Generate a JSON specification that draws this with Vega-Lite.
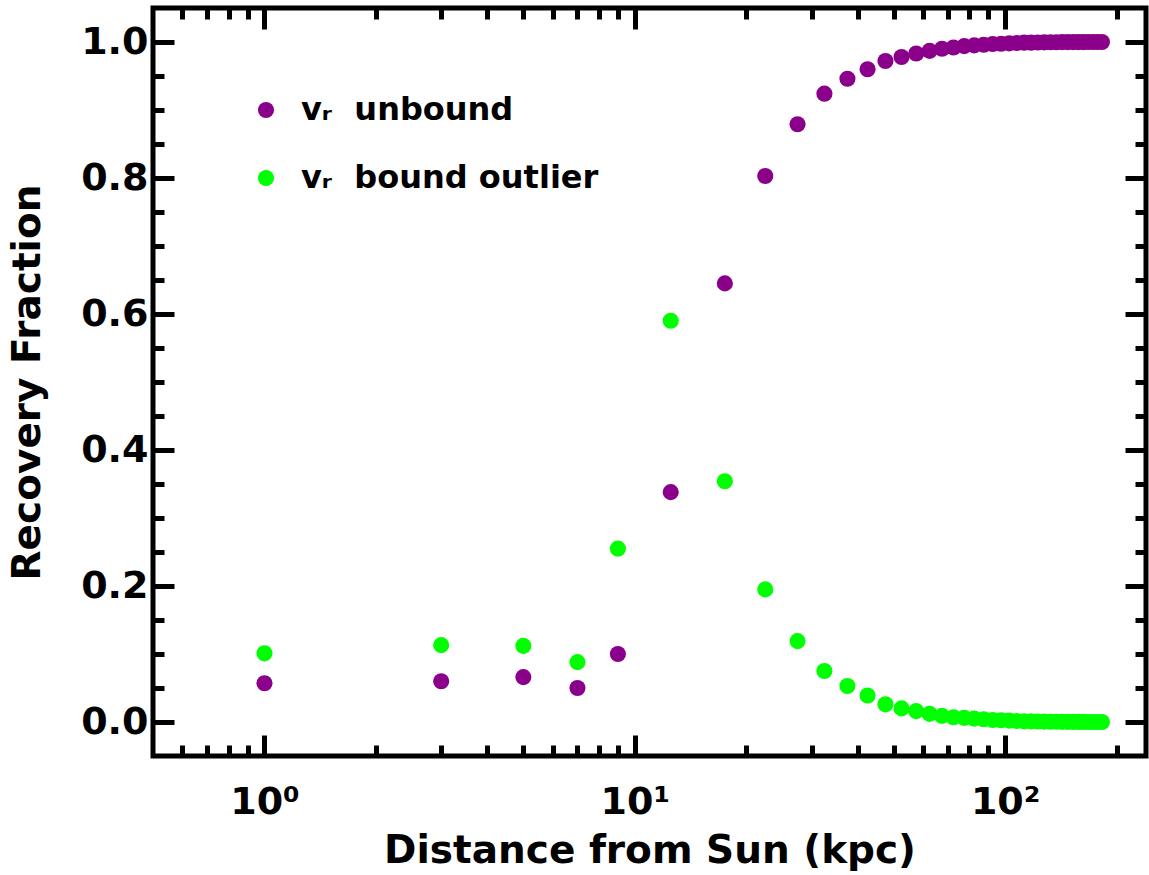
{
  "$schema": "https://vega.github.io/schema/vega-lite/v6.json",
  "width": 993,
  "height": 748,
  "autosize": {"type": "none"},
  "padding": {"left": 153, "top": 8, "right": 3, "bottom": 119},
  "background": "white",
  "config": {
    "view": {"stroke": "black", "strokeWidth": 5},
    "axis": {
      "domain": false,
      "grid": false,
      "tickColor": "black",
      "tickWidth": 5,
      "labelFont": "DejaVu Sans",
      "labelFontWeight": "bold",
      "labelFontSize": 38,
      "labelColor": "black",
      "titleFont": "DejaVu Sans",
      "titleFontWeight": "bold",
      "titleFontSize": 39,
      "titleColor": "black"
    },
    "legend": {
      "labelFont": "DejaVu Sans",
      "labelFontWeight": "bold",
      "labelFontSize": 32,
      "labelColor": "black",
      "labelLimit": 0
    }
  },
  "data": {
    "values": [
      {"d": 1, "s": "vᵣ unbound", "f": 0.057}, {"d": 1, "s": "vᵣ bound outlier", "f": 0.101},
      {"d": 3, "s": "vᵣ unbound", "f": 0.060}, {"d": 3, "s": "vᵣ bound outlier", "f": 0.113},
      {"d": 5, "s": "vᵣ unbound", "f": 0.066}, {"d": 5, "s": "vᵣ bound outlier", "f": 0.112},
      {"d": 7, "s": "vᵣ unbound", "f": 0.050}, {"d": 7, "s": "vᵣ bound outlier", "f": 0.088},
      {"d": 9, "s": "vᵣ unbound", "f": 0.100}, {"d": 9, "s": "vᵣ bound outlier", "f": 0.255},
      {"d": 12.5, "s": "vᵣ unbound", "f": 0.338}, {"d": 12.5, "s": "vᵣ bound outlier", "f": 0.590},
      {"d": 17.5, "s": "vᵣ unbound", "f": 0.645}, {"d": 17.5, "s": "vᵣ bound outlier", "f": 0.354},
      {"d": 22.5, "s": "vᵣ unbound", "f": 0.803}, {"d": 22.5, "s": "vᵣ bound outlier", "f": 0.195},
      {"d": 27.5, "s": "vᵣ unbound", "f": 0.879}, {"d": 27.5, "s": "vᵣ bound outlier", "f": 0.119},
      {"d": 32.5, "s": "vᵣ unbound", "f": 0.924}, {"d": 32.5, "s": "vᵣ bound outlier", "f": 0.075},
      {"d": 37.5, "s": "vᵣ unbound", "f": 0.946}, {"d": 37.5, "s": "vᵣ bound outlier", "f": 0.053},
      {"d": 42.5, "s": "vᵣ unbound", "f": 0.960}, {"d": 42.5, "s": "vᵣ bound outlier", "f": 0.039},
      {"d": 47.5, "s": "vᵣ unbound", "f": 0.972}, {"d": 47.5, "s": "vᵣ bound outlier", "f": 0.026},
      {"d": 52.5, "s": "vᵣ unbound", "f": 0.978}, {"d": 52.5, "s": "vᵣ bound outlier", "f": 0.020},
      {"d": 57.5, "s": "vᵣ unbound", "f": 0.983}, {"d": 57.5, "s": "vᵣ bound outlier", "f": 0.016},
      {"d": 62.5, "s": "vᵣ unbound", "f": 0.987}, {"d": 62.5, "s": "vᵣ bound outlier", "f": 0.012},
      {"d": 67.5, "s": "vᵣ unbound", "f": 0.990}, {"d": 67.5, "s": "vᵣ bound outlier", "f": 0.009},
      {"d": 72.5, "s": "vᵣ unbound", "f": 0.992}, {"d": 72.5, "s": "vᵣ bound outlier", "f": 0.007},
      {"d": 77.5, "s": "vᵣ unbound", "f": 0.994}, {"d": 77.5, "s": "vᵣ bound outlier", "f": 0.006},
      {"d": 82.5, "s": "vᵣ unbound", "f": 0.995}, {"d": 82.5, "s": "vᵣ bound outlier", "f": 0.005},
      {"d": 87.5, "s": "vᵣ unbound", "f": 0.996}, {"d": 87.5, "s": "vᵣ bound outlier", "f": 0.004},
      {"d": 92.5, "s": "vᵣ unbound", "f": 0.997}, {"d": 92.5, "s": "vᵣ bound outlier", "f": 0.003},
      {"d": 97.5, "s": "vᵣ unbound", "f": 0.9975}, {"d": 97.5, "s": "vᵣ bound outlier", "f": 0.0025},
      {"d": 102.5, "s": "vᵣ unbound", "f": 0.998}, {"d": 102.5, "s": "vᵣ bound outlier", "f": 0.002},
      {"d": 107.5, "s": "vᵣ unbound", "f": 0.9985}, {"d": 107.5, "s": "vᵣ bound outlier", "f": 0.0015},
      {"d": 112.5, "s": "vᵣ unbound", "f": 0.999}, {"d": 112.5, "s": "vᵣ bound outlier", "f": 0.001},
      {"d": 117.5, "s": "vᵣ unbound", "f": 0.999}, {"d": 117.5, "s": "vᵣ bound outlier", "f": 0.001},
      {"d": 122.5, "s": "vᵣ unbound", "f": 0.9993}, {"d": 122.5, "s": "vᵣ bound outlier", "f": 0.0007},
      {"d": 127.5, "s": "vᵣ unbound", "f": 0.9995}, {"d": 127.5, "s": "vᵣ bound outlier", "f": 0.0005},
      {"d": 132.5, "s": "vᵣ unbound", "f": 0.9996}, {"d": 132.5, "s": "vᵣ bound outlier", "f": 0.0004},
      {"d": 137.5, "s": "vᵣ unbound", "f": 0.9997}, {"d": 137.5, "s": "vᵣ bound outlier", "f": 0.0003},
      {"d": 142.5, "s": "vᵣ unbound", "f": 0.9998}, {"d": 142.5, "s": "vᵣ bound outlier", "f": 0.0002},
      {"d": 147.5, "s": "vᵣ unbound", "f": 0.9998}, {"d": 147.5, "s": "vᵣ bound outlier", "f": 0.0002},
      {"d": 152.5, "s": "vᵣ unbound", "f": 0.9999}, {"d": 152.5, "s": "vᵣ bound outlier", "f": 0.0001},
      {"d": 157.5, "s": "vᵣ unbound", "f": 0.9999}, {"d": 157.5, "s": "vᵣ bound outlier", "f": 0.0001},
      {"d": 162.5, "s": "vᵣ unbound", "f": 0.9999}, {"d": 162.5, "s": "vᵣ bound outlier", "f": 0.0001},
      {"d": 167.5, "s": "vᵣ unbound", "f": 1.0}, {"d": 167.5, "s": "vᵣ bound outlier", "f": 0.0},
      {"d": 172.5, "s": "vᵣ unbound", "f": 1.0}, {"d": 172.5, "s": "vᵣ bound outlier", "f": 0.0},
      {"d": 177.5, "s": "vᵣ unbound", "f": 1.0}, {"d": 177.5, "s": "vᵣ bound outlier", "f": 0.0},
      {"d": 182.5, "s": "vᵣ unbound", "f": 1.0}, {"d": 182.5, "s": "vᵣ bound outlier", "f": 0.0}
    ]
  },
  "layer": [
    {
      "mark": {"type": "circle", "opacity": 1, "size": 260},
      "encoding": {
        "x": {
          "field": "d", "type": "quantitative",
          "scale": {"type": "log", "domain": [0.5, 240], "nice": false},
          "axis": {
            "orient": "bottom", "values": [1, 10, 100], "tickSize": -21, "labelPadding": 48,
            "labelExpr": "datum.value == 1 ? '10⁰' : datum.value == 10 ? '10¹' : '10²'",
            "labelFlush": false,
            "title": "Distance from Sun (kpc)", "titlePadding": 10
          }
        },
        "y": {
          "field": "f", "type": "quantitative",
          "scale": {"domain": [-0.05, 1.05], "nice": false, "zero": false},
          "axis": {
            "orient": "left", "values": [0, 0.2, 0.4, 0.6, 0.8, 1.0], "tickSize": -21, "labelPadding": 26,
            "format": ".1f", "labelFlush": false,
            "title": "Recovery Fraction", "titlePadding": 33
          }
        },
        "color": {
          "field": "s", "type": "nominal",
          "scale": {"domain": ["vᵣ unbound", "vᵣ bound outlier"], "range": ["#8B008B", "#00FF00"]},
          "legend": {
            "title": null, "orient": "none", "legendX": 97, "legendY": 86,
            "symbolType": "circle", "symbolSize": 260, "symbolStrokeWidth": 0,
            "labelOffset": 19, "rowPadding": 36, "padding": 0,
            "labelExpr": "replace(datum.label, ' ', '\u2002\u2009')"
          }
        }
      }
    },
    {
      "mark": {"type": "circle", "opacity": 0},
      "encoding": {
        "x": {
          "field": "d", "type": "quantitative",
          "scale": {"type": "log", "domain": [0.5, 240], "nice": false},
          "axis": {
            "orient": "bottom", "values": [0.6, 0.7, 0.8, 0.9, 2, 3, 4, 5, 6, 7, 8, 9, 20, 30, 40, 50, 60, 70, 80, 90, 200],
            "tickSize": -11, "labels": false, "title": null
          }
        },
        "y": {
          "field": "f", "type": "quantitative",
          "scale": {"domain": [-0.05, 1.05], "nice": false, "zero": false},
          "axis": {
            "orient": "left", "values": [0.05, 0.1, 0.15, 0.25, 0.3, 0.35, 0.45, 0.5, 0.55, 0.65, 0.7, 0.75, 0.85, 0.9, 0.95],
            "tickSize": -11, "labels": false, "title": null
          }
        }
      }
    },
    {
      "mark": {"type": "circle", "opacity": 0},
      "encoding": {
        "x": {
          "field": "d", "type": "quantitative",
          "scale": {"type": "log", "domain": [0.5, 240], "nice": false},
          "axis": {"orient": "top", "values": [1, 10, 100], "tickSize": -21, "labels": false, "title": null}
        },
        "y": {
          "field": "f", "type": "quantitative",
          "scale": {"domain": [-0.05, 1.05], "nice": false, "zero": false},
          "axis": {"orient": "right", "values": [0, 0.2, 0.4, 0.6, 0.8, 1.0], "tickSize": -21, "labels": false, "title": null}
        }
      }
    },
    {
      "mark": {"type": "circle", "opacity": 0},
      "encoding": {
        "x": {
          "field": "d", "type": "quantitative",
          "scale": {"type": "log", "domain": [0.5, 240], "nice": false},
          "axis": {
            "orient": "top", "values": [0.6, 0.7, 0.8, 0.9, 2, 3, 4, 5, 6, 7, 8, 9, 20, 30, 40, 50, 60, 70, 80, 90, 200],
            "tickSize": -11, "labels": false, "title": null
          }
        },
        "y": {
          "field": "f", "type": "quantitative",
          "scale": {"domain": [-0.05, 1.05], "nice": false, "zero": false},
          "axis": {
            "orient": "right", "values": [0.05, 0.1, 0.15, 0.25, 0.3, 0.35, 0.45, 0.5, 0.55, 0.65, 0.7, 0.75, 0.85, 0.9, 0.95],
            "tickSize": -11, "labels": false, "title": null
          }
        }
      }
    }
  ],
  "resolve": {"axis": {"x": "independent", "y": "independent"}}
}
